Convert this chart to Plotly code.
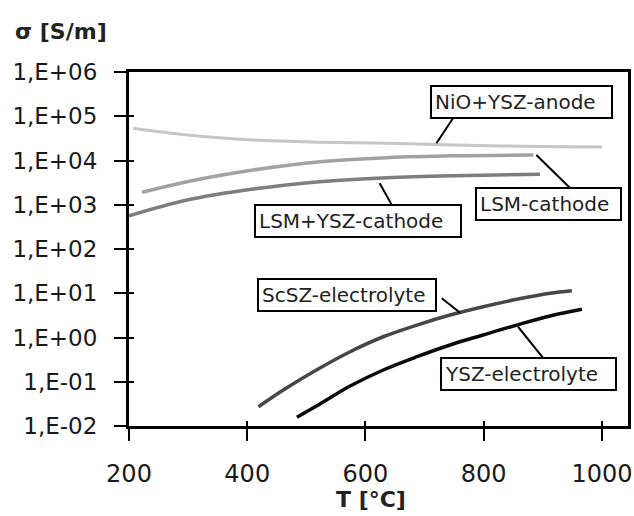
import math
import plotly.graph_objects as go

# ---------------- data ----------------
anode_T = [207, 298, 410, 523, 636, 749, 929, 1000]
anode_s = [53500, 37700, 29000, 25800, 24500, 22400, 20500, 20200]

lsm_T = [222, 298, 410, 523, 636, 749, 884]
lsm_s = [1910, 3320, 6100, 9400, 11600, 12800, 13300]

lsmysz_T = [200, 298, 410, 523, 636, 749, 895]
lsmysz_s = [560, 1280, 2270, 3320, 4080, 4530, 4880]

scsz_T = [419, 461, 517, 574, 630, 687, 743, 799, 856, 912, 949]
scsz_s = [0.0273, 0.0652, 0.1845, 0.4775, 1.04, 1.91, 3.22, 4.97, 7.29, 9.98, 11.4]

ysz_T = [484, 517, 574, 630, 687, 743, 799, 856, 912, 966]
ysz_s = [0.01574, 0.0283, 0.0802, 0.1845, 0.368, 0.678, 1.14, 1.91, 3.06, 4.34]

y_tickvals = [1e-2, 1e-1, 1e0, 1e1, 1e2, 1e3, 1e4, 1e5, 1e6]
y_ticktext = ["1,E-02", "1,E-01", "1,E+00", "1,E+01", "1,E+02",
              "1,E+03", "1,E+04", "1,E+05", "1,E+06"]
x_tickvals = [200, 400, 600, 800, 1000]

# labels: text, box centre (T, sigma), box width, leader (T0, s0) -> (T1, s1)
labels = [
    ("NiO+YSZ-anode", 864, 2.15e5, 173, (748, 9.0e4), (720, 2.45e4)),
    ("LSM-cathode", 909, 1.04e3, 137, (889, 1.33e4), (946, 2.39e3)),
    ("LSM+YSZ-cathode", 587, 4.4e2, 198, (624, 3.05e3), (644, 1.02e3)),
    ("ScSZ-electrolyte", 569, 9.1, 170, (729, 7.7), (760, 3.64)),
    ("YSZ-electrolyte", 876, 0.15, 167, (858, 1.75), (901, 0.339)),
]

FONT = "DejaVu Sans"

fig = go.Figure()

series = [
    (anode_T, anode_s, "#c6c6c6", 3),
    (lsm_T, lsm_s, "#a2a2a2", 3.5),
    (lsmysz_T, lsmysz_s, "#7e7e7e", 3.5),
    (scsz_T, scsz_s, "#474747", 3.5),
    (ysz_T, ysz_s, "#0a0a0a", 3.5),
]
for xs, ys, col, w in series:
    fig.add_trace(go.Scatter(x=xs, y=ys, mode="lines",
                             line=dict(color=col, width=w, shape="spline", smoothing=1.0),
                             hoverinfo="skip", showlegend=False))

# leader lines from label boxes to curves
for text, tx, ty, w, p0, p1 in labels:
    fig.add_trace(go.Scatter(x=[p0[0], p1[0]], y=[p0[1], p1[1]], mode="lines",
                             line=dict(color="black", width=2),
                             hoverinfo="skip", showlegend=False))

# invisible trace to activate overlay axes (inner part of crossing ticks)
fig.add_trace(go.Scatter(x=[600], y=[1], xaxis="x2", yaxis="y2", mode="markers",
                         marker=dict(opacity=0), hoverinfo="skip", showlegend=False))

annotations = []
for text, tx, ty, w, p0, p1 in labels:
    annotations.append(dict(
        x=tx, y=math.log10(ty), xref="x", yref="y", text=text, showarrow=False,
        xanchor="center", yanchor="middle", width=w, align="left",
        font=dict(family=FONT, size=20, color="#222222"),
        bgcolor="white", bordercolor="black", borderwidth=2, borderpad=3))

annotations.append(dict(x=-0.2325, y=1.113, xref="paper", yref="paper",
                        text="<b>\u03c3 [S/m]</b>", showarrow=False,
                        xanchor="left", yanchor="middle",
                        font=dict(family=FONT, size=22, color="#222222")))
annotations.append(dict(x=0.485, y=-0.209, xref="paper", yref="paper",
                        text="<b>T [\u00b0C]</b>", showarrow=False,
                        xanchor="center", yanchor="middle",
                        font=dict(family=FONT, size=22, color="#222222")))

xr = [200, 1044]
yr = [-2, 6]
fig.update_layout(
    width=634, height=516,
    margin=dict(l=129, r=6, t=72, b=90, autoexpand=False),
    paper_bgcolor="white", plot_bgcolor="white",
    showlegend=False,
    xaxis=dict(range=xr, tickvals=x_tickvals, showgrid=False, zeroline=False,
               automargin=False,
               showline=True, linecolor="black", linewidth=3, mirror=True,
               ticks="outside", ticklen=12, tickwidth=2, tickcolor="black",
               ticklabelstandoff=12,
               tickfont=dict(family=FONT, size=24, color="#1a1a1a")),
    yaxis=dict(type="log", range=yr, tickvals=y_tickvals, ticktext=y_ticktext,
               automargin=False,
               showgrid=False, zeroline=False,
               showline=True, linecolor="black", linewidth=3, mirror=True,
               ticks="outside", ticklen=12, tickwidth=2, tickcolor="black",
               ticklabelstandoff=12,
               tickfont=dict(family=FONT, size=23, color="#1a1a1a")),
    xaxis2=dict(range=xr, tickvals=x_tickvals, overlaying="x", side="bottom",
                automargin=False,
                showgrid=False, zeroline=False, showline=False, showticklabels=False,
                ticks="inside", ticklen=5, tickwidth=2, tickcolor="black"),
    yaxis2=dict(type="log", range=yr, tickvals=y_tickvals, overlaying="y", side="left",
                automargin=False,
                showgrid=False, zeroline=False, showline=False, showticklabels=False,
                ticks="inside", ticklen=5, tickwidth=2, tickcolor="black"),
    annotations=annotations,
)

fig.write_html("out.html",
               config={"displayModeBar": False, "staticPlot": True},
               post_script="document.body.style.margin='0px';document.body.style.padding='0px';")
